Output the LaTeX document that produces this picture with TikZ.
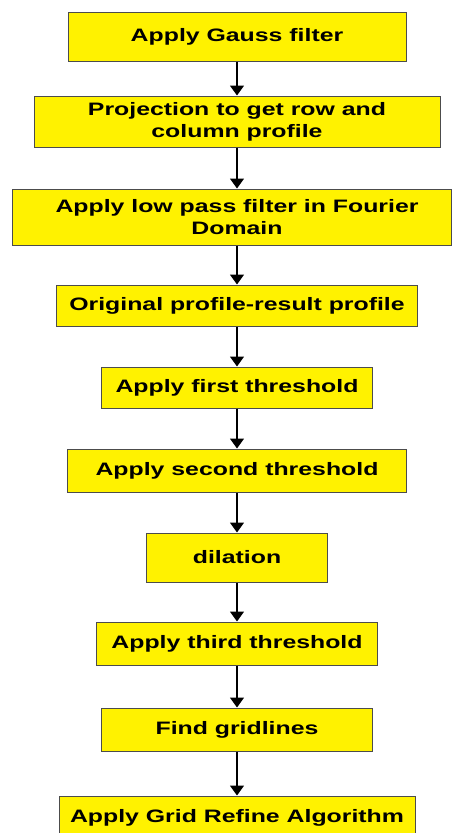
\documentclass[tikz,border=0pt]{standalone}
\usepackage{fontspec}
\setsansfont{Liberation Sans}[FakeStretch=1.38]
\usepackage{tikz}
\usetikzlibrary{arrows.meta}
\tikzstyle{procbox} = [draw=black!70,line width=1pt,fill=yellow,inner sep=0pt,align=center,font=\sffamily\bfseries\fontsize{18}{22}\selectfont]
\tikzstyle{arrow} = [line width=1.3pt,-{Triangle[width=14pt,length=10pt]}]

\begin{document}
\begin{tikzpicture}[x=1pt,y=-1pt]
	\useasboundingbox (0,0) rectangle (452,833);
	\def \cx {237}
	\def \sh {\hspace*{11pt}}
	% processing steps, top to bottom
	\node (gauss) at (\cx,36.5) [procbox,minimum width=338,minimum height=49] {Apply Gauss filter};
	\node (proj) at (\cx,121.5) [procbox,minimum width=406,minimum height=51] {Projection to get row and\\column profile};
	\node (lowpass) at (231.5,217) [procbox,minimum width=439,minimum height=56] {\sh Apply low pass filter in Fourier\\\sh Domain};
	\node (diff) at (\cx,305.5) [procbox,minimum width=361,minimum height=41] {Original profile-result profile};
	\node (thrA) at (\cx,387.5) [procbox,minimum width=271,minimum height=41] {Apply first threshold};
	\node (thrB) at (\cx,470.5) [procbox,minimum width=339,minimum height=43] {Apply second threshold};
	\node (dil) at (\cx,557.5) [procbox,minimum width=181,minimum height=49] {dilation};
	\node (thrC) at (\cx,643.5) [procbox,minimum width=281,minimum height=43] {Apply third threshold};
	\node (grid) at (\cx,729.5) [procbox,minimum width=271,minimum height=43] {Find gridlines};
	\node (refine) at (\cx,817.5) [procbox,minimum width=356,minimum height=43] {Apply Grid Refine Algorithm};

	\draw [arrow] (gauss.south) -- (proj.north);
	\draw [arrow] (proj.south) -- (proj.south |- lowpass.north);
	\draw [arrow] (diff.north |- lowpass.south) -- (diff.north);
	\foreach \a/\b in {diff/thrA,thrA/thrB,thrB/dil,dil/thrC,thrC/grid,grid/refine} {
		\draw [arrow] (\a.south) -- (\b.north);
	}
\end{tikzpicture}
\end{document}
